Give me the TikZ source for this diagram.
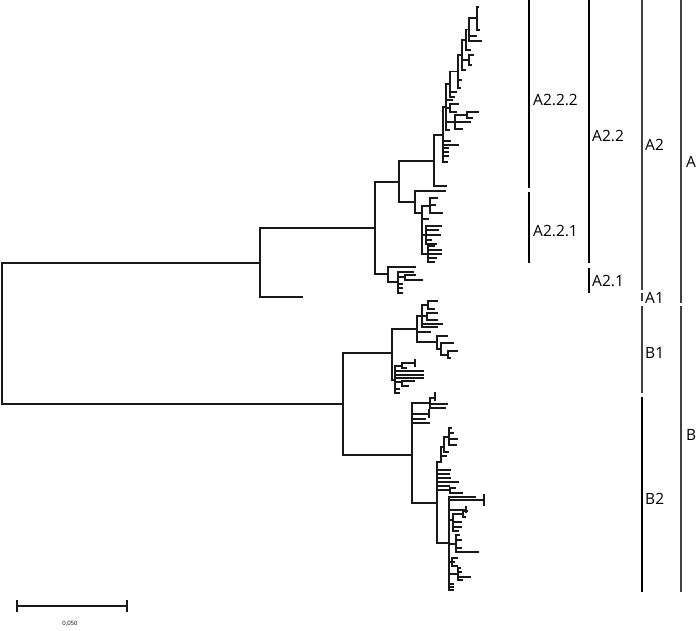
\documentclass[tikz,border=0pt]{standalone}
\usepackage{fontspec}
\setmainfont{Open Sans}
\tikzset{
  tree/.style={line width=1.2pt, line cap=rect, black!90},
  barthin/.style={line width=1.1pt, black},
  barthick/.style={line width=1.4pt, black!75},
  lab/.style={anchor=west, inner sep=0pt, font=\fontsize{15.5}{15.5}\selectfont},
}
\newcommand\hbr[3]{\draw[tree] (#1,#2) -- (#3,#2);}
\newcommand\vbr[3]{\draw[tree] (#1,#2) -- (#1,#3);}
\newcommand\leaves[2]{\foreach \yy/\xx in {#2} {\hbr{#1}{\yy}{\xx}}}
\begin{document}
\begin{tikzpicture}[x=1pt,y=-1pt]
\useasboundingbox (0,0) rectangle (696,630);
% root
\vbr{2}{263}{404}
\hbr{2}{263}{260}
\hbr{2}{404}{343}
% A
\vbr{260}{228}{297}
\hbr{260}{297}{302}
\hbr{260}{228}{375}
% A2
\vbr{375}{182}{274}
\hbr{375}{182}{399}
\hbr{375}{274}{388}
% A2.2
\vbr{399}{161}{202}
\hbr{399}{161}{434}
\hbr{399}{202}{415}
% A2.2.2
\vbr{434}{135}{186}
\hbr{434}{186}{446}
\hbr{434}{135}{443}
\vbr{443}{107}{162}
\hbr{443}{107}{446}
\leaves{443}{141/450,145/458,148/448,152/448,156/448,162/447}
\vbr{446}{84}{130}
\hbr{446}{84}{450}
\leaves{446}{100/452,108/450,122/455,130/449}
\vbr{450}{104}{112}
\leaves{450}{104/458,112/456}
\vbr{455}{115}{129}
\leaves{455}{115/467,122/470,129/462}
\vbr{467}{112}{118}
\leaves{467}{112/478,118/472}
\vbr{450}{71.5}{97}
\hbr{450}{71.5}{458}
\leaves{450}{92/456,97/454}
\vbr{458}{55}{88}
\hbr{458}{55}{462}
\leaves{458}{80/461,88/460}
\vbr{462}{40}{70}
\hbr{462}{40}{466}
\leaves{462}{60/469,70/465}
\vbr{469}{55}{65}
\leaves{469}{55/473,65/471}
\vbr{466}{29.5}{50}
\hbr{466}{29.5}{469}
\hbr{466}{50}{470}
\vbr{469}{18}{41}
\leaves{469}{18/477,36/476,41/481}
\vbr{477}{7}{30}
\leaves{477}{7/478,30/479}
% A2.2.1
\vbr{415}{191}{213}
\hbr{415}{191}{445}
\hbr{415}{213}{422}
\vbr{422}{206}{254}
\leaves{422}{206/430,219/428,235/426,254/428}
\vbr{430}{198}{213}
\leaves{430}{198/437,205/435,213/442}
\vbr{426}{226}{244}
\leaves{426}{226/441,230/438,235/440,240/431,244/436}
\vbr{428}{246}{262}
\leaves{428}{246/434,250/441,254/441,258/436,262/434}
% A2.1
\vbr{388}{267}{282}
\hbr{388}{267}{415}
\hbr{388}{282}{398}
\vbr{398}{272}{293}
\leaves{398}{272/413,277/405,284/402,288/402,293/402}
\vbr{405}{275}{280}
\leaves{405}{275/415,280/422}
% B
\vbr{343}{353}{455}
\hbr{343}{353}{392}
\hbr{343}{455}{412}
% B1
\vbr{392}{329}{380}
\hbr{392}{329}{417}
\hbr{392}{380}{395}
\vbr{417}{316}{342}
\leaves{417}{316/422,332/430,342/437}
\vbr{422}{305}{327}
\leaves{422}{305/428,316/427,324/442,327/437}
\vbr{428}{301}{309}
\leaves{428}{301/437,309/434}
\vbr{427}{313}{320}
\leaves{427}{313/437,320/437}
\vbr{437}{336}{349}
\leaves{437}{336/447,349/441}
\vbr{441}{343}{355}
\leaves{441}{343/453,355/448}
\vbr{448}{351}{358}
\leaves{448}{351/457,358/450}
\vbr{395}{366}{393}
\leaves{395}{366/402,371/423,375/423,378/423,382/402,389/399,393/399}
\vbr{402}{363}{368}
\leaves{402}{363/415,368/406}
\draw[tree] (415,360) -- (415,366);
\vbr{402}{381}{386}
\leaves{402}{381/414,386/408}
% B2
\vbr{412}{403}{503}
\hbr{412}{403}{430}
\leaves{412}{414/429,419/425,423/429,503/437}
\draw[tree] (429,410) -- (429,417);
\vbr{430}{398}{408}
\leaves{430}{398/435,404/447,408/445}
\draw[tree] (435,393) -- (435,400);
% B2b
\vbr{437}{462}{543}
\hbr{437}{462}{441}
\vbr{441}{447}{462}
\hbr{441}{447}{444}
\hbr{441}{456}{446}
\vbr{444}{437}{452}
\hbr{444}{437}{449}
\hbr{444}{452}{448}
\vbr{449}{428}{445}
\leaves{449}{428/451,433/453,439/457,445/456}
\leaves{437}{470/450,474/449,478/450,482/458,486/449,490/450,543/449}
\vbr{450}{488}{493}
\leaves{450}{488/455,493/462}
% B2c
\vbr{449}{497}{590}
\leaves{449}{497/475,500/484,510/466,520/453,544/456,562/452,574/458,584/453,587/453,590/453}
\draw[tree] (484,495) -- (484,505);
\draw[tree] (466,507) -- (466,512);
\vbr{453}{514}{531}
\leaves{453}{514/463,522/461,527/461,531/458}
\vbr{463}{511}{517}
\leaves{463}{511/467,517/465}
\vbr{456}{535}{552}
\leaves{456}{535/459,540/461,548/461,552/478}
\vbr{452}{558}{566}
\leaves{452}{558/457,562/454,566/457}
\vbr{458}{568}{580}
\leaves{458}{568/460,572/461,577/470,580/462}
% clade bars
\draw[barthin] (529,0) -- (529,188);
\draw[barthin] (529,192) -- (529,263);
\draw[barthin] (589,0) -- (589,263);
\draw[barthin] (589,268) -- (589,293);
\draw[barthick] (642,0) -- (642,290);
\draw[barthick] (642,293) -- (642,301);
\draw[barthick] (642,306) -- (642,393);
\draw[barthin] (642,397) -- (642,592);
\draw[barthick] (681,0) -- (681,303);
\draw[barthick] (681,306) -- (681,592);
\node[lab] (l2222) at (533,100) {A2.2.2};
\node[lab] (l2221) at (533,231) {A2.2.1};
\node[lab] (l222) at (592,136) {A2.2};
\node[lab] (l221) at (592,281) {A2.1};
\node[lab] (l22) at (645,145) {A2};
\node[lab] (l21) at (645,298) {A1};
\node[lab] (lb1) at (645,353) {B1};
\node[lab] (lb2) at (645,499) {B2};
\node[lab] (la) at (686,162) {A};
\node[lab] (lb) at (686,435) {B};
% scale bar
\draw[tree] (17,606) -- (127,606);
\draw[tree] (17,601) -- (17,611);
\draw[tree] (127,601) -- (127,611);
\node[inner sep=0pt, font=\fontsize{6}{6}\selectfont] (sc) at (70,624) {0,050};
\end{tikzpicture}
\end{document}
